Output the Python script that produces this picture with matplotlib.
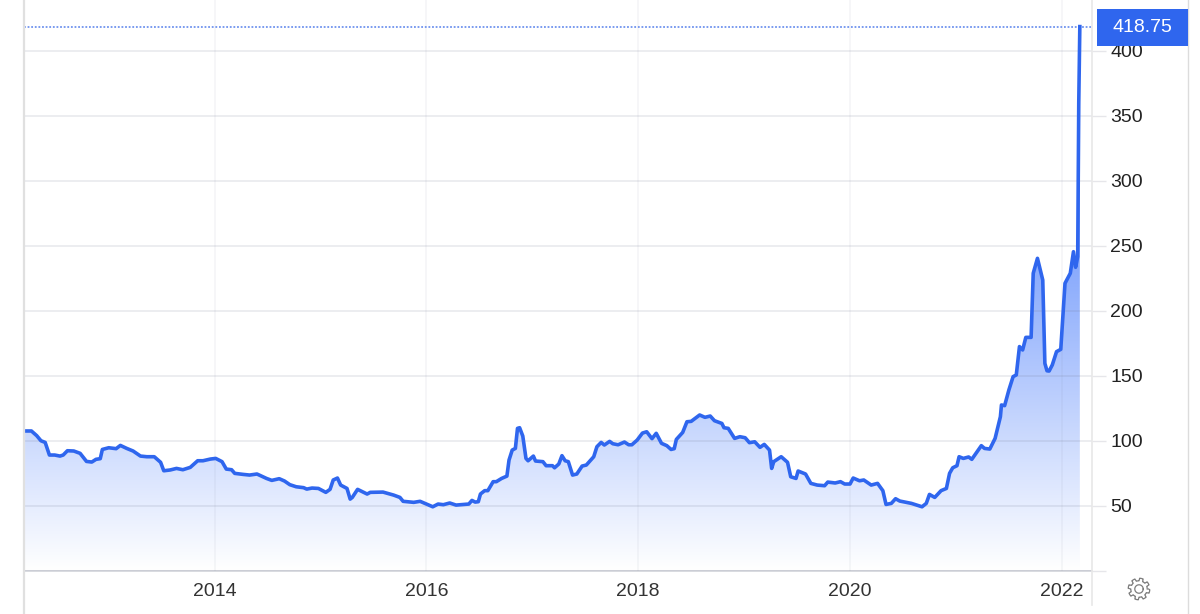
import numpy as np
import matplotlib
matplotlib.use("Agg")
import matplotlib.pyplot as plt
from matplotlib.colors import LinearSegmentedColormap
from matplotlib.lines import Line2D
from matplotlib.patches import Polygon, Rectangle

years = [2012.21,2012.27,2012.32,2012.36,2012.40,2012.44,2012.49,2012.54,2012.57,2012.61,2012.67,2012.73,2012.79,2012.84,2012.88,2012.92,2012.94,
         2013.00,2013.07,2013.11,2013.17,2013.23,2013.30,2013.36,2013.43,2013.49,2013.52,2013.58,2013.64,2013.70,2013.77,2013.84,2013.89,2013.96,
         2014.01,2014.07,2014.11,2014.16,2014.19,2014.27,2014.33,2014.40,2014.49,2014.54,2014.61,2014.66,2014.71,2014.77,2014.84,2014.87,2014.92,2014.98,
         2015.05,2015.09,2015.12,2015.16,2015.19,2015.25,2015.28,2015.30,2015.35,2015.44,2015.47,2015.59,2015.69,2015.75,2015.78,2015.88,2015.94,
         2016.00,2016.06,2016.11,2016.16,2016.22,2016.28,2016.35,2016.40,2016.43,2016.46,2016.49,2016.51,2016.55,2016.58,2016.63,2016.66,2016.71,2016.76,2016.78,2016.81,2016.84,2016.86,2016.88,2016.91,2016.94,2016.96,
         2017.01,2017.03,2017.10,2017.13,2017.19,2017.21,2017.25,2017.28,2017.31,2017.34,2017.38,2017.42,2017.47,2017.51,2017.58,2017.61,2017.65,2017.68,2017.73,2017.76,2017.81,2017.87,2017.91,2017.94,2017.99,
         2018.04,2018.08,2018.13,2018.17,2018.22,2018.27,2018.31,2018.34,2018.36,2018.42,2018.46,2018.50,2018.58,2018.63,2018.68,2018.72,2018.79,2018.81,2018.85,2018.91,2018.96,
         2019.01,2019.05,2019.10,2019.15,2019.19,2019.24,2019.26,2019.28,2019.35,2019.41,2019.44,2019.49,2019.51,2019.58,2019.63,2019.69,2019.76,2019.79,2019.86,2019.91,2019.95,
         2020.00,2020.03,2020.09,2020.13,2020.20,2020.26,2020.31,2020.34,2020.39,2020.43,2020.47,2020.58,2020.68,2020.72,2020.75,2020.80,2020.86,2020.91,2020.94,2020.97,
         2021.01,2021.03,2021.07,2021.12,2021.15,2021.20,2021.24,2021.27,2021.32,2021.37,2021.42,2021.43,2021.46,2021.50,2021.54,2021.57,2021.60,2021.63,2021.66,2021.71,2021.73,2021.77,2021.82,2021.84,2021.86,2021.88,2021.91,2021.95,2021.99,
         2022.03,2022.08,2022.11,2022.13,2022.15,2022.155,2022.16,2022.17]
prices = [107.7,107.7,104.1,100.2,98.9,89.2,89.2,88.4,89.2,92.5,92.3,90.5,84.3,83.8,85.9,86.4,93.5,
          94.8,94.1,96.6,94.3,92.3,88.4,87.9,87.9,83.6,77.1,77.7,78.9,77.9,79.7,84.8,84.8,86.1,
          86.6,84.1,78.4,77.9,75.1,74.3,73.8,74.6,71.2,69.7,71.0,69.2,66.4,64.8,64.1,63.0,63.8,63.5,
          60.5,62.8,70.0,71.5,66.1,63.5,55.3,56.6,62.8,59.2,60.5,60.7,58.4,56.6,53.6,52.8,53.6,
          51.5,49.4,51.5,51.0,52.3,50.7,51.2,51.5,54.3,53.0,53.3,59.2,61.8,61.8,68.7,68.7,71.2,73.0,85.3,93.0,94.3,109.7,110.2,103.8,86.6,84.8,
          88.4,84.6,84.1,81.0,81.0,79.4,82.3,88.7,84.8,84.1,73.8,74.6,80.7,81.5,87.9,95.6,98.9,96.9,99.7,97.9,97.1,99.2,97.1,97.1,100.7,
          106.1,107.1,101.8,105.9,98.2,96.4,93.5,94.1,101.2,106.6,114.8,115.1,120.0,118.2,119.2,115.6,113.5,110.2,109.7,102.0,103.3,
          102.5,98.7,99.4,95.1,97.4,93.0,78.9,84.1,87.9,83.6,72.5,71.2,76.9,74.6,67.4,66.1,65.6,68.4,67.7,68.7,66.9,
          66.9,71.5,69.4,70.0,66.1,67.4,61.8,51.2,52.0,55.6,53.8,52.0,49.4,52.0,58.9,56.6,61.8,63.5,75.1,79.4,
          81.0,87.9,86.6,87.7,85.9,91.8,96.4,94.3,93.8,102.0,118.7,127.7,127.2,139.2,149.5,150.8,172.6,170.0,179.7,179.7,229.0,240.5,223.8,159.7,154.0,153.8,158.5,168.7,170.5,
          221.3,229.0,245.6,233.6,241.8,300.0,360.0,418.75]

year_ticks = [2014,2016,2018,2020,2022]
price_ticks = [0,50,100,150,200,250,300,350,400]
last_label = "418.75"

W,H = 1200,614
BLUE = "#2f66ee"
GRID = "#e6e6ea"

def fx_(x): return x/W
def fy_(y): return 1-y/H

plt.rcParams["font.family"] = ["Liberation Sans","DejaVu Sans"]
plt.rcParams["font.size"] = 14

fig = plt.figure(figsize=[W/100,H/100],dpi=100,facecolor="white")
ax = fig.add_axes([fx_(24),fy_(571),(1092-24)/W,571/H])

ax.set_xlim(2012.2,2022.285)
ax.set_ylim(0,439.2)

# gradient fill under the line
cmap = LinearSegmentedColormap.from_list("fade",["#ffffff","#2260fa"])
grad = np.linspace(1,0,256)[:,np.newaxis]
im = ax.imshow(grad,cmap=cmap,vmin=0,vmax=1,aspect="auto",zorder=1,
               extent=[2012.2,2022.285,0,439.2])
poly = Polygon(list(zip(years,prices))+[(years[-1],0),(years[0],0)],closed=True,
               transform=ax.transData,facecolor="none",edgecolor="none")
ax.add_patch(poly)
im.set_clip_path(poly)
ax.set_xlim(2012.2,2022.285)
ax.set_ylim(0,439.2)

# see-through grid so it reads darker over the fill, as in the original
ax.grid(True,axis="y",color="#70768c",alpha=0.14,lw=1.3,zorder=2)
ax.grid(True,axis="x",color="#70768c",alpha=0.08,lw=1.1,zorder=2)
ax.set_axisbelow(False)

ax.plot(years,prices,color=BLUE,lw=2.6,zorder=4,solid_joinstyle="round")
ax.axhline(prices[-1],color="#6f93ee",lw=1.3,ls=(0,(1,1)),zorder=3)

ax.set_xticks(year_ticks)
ax.set_xticklabels([str(y) for y in year_ticks],color="#333333")
ax.set_yticks(price_ticks)
ax.set_yticklabels([""]+[str(p) for p in price_ticks[1:]],color="#222222")
ax.yaxis.tick_right()
ax.tick_params(axis="y",length=10,width=1,color=GRID,pad=3)
ax.tick_params(axis="x",length=0,pad=9)

for s in ["top","left","right"]:
    ax.spines[s].set_visible(False)
ax.spines["bottom"].set_color("#d2d4da")
ax.spines["bottom"].set_linewidth(1.2)

# frame lines outside the plot
fig.add_artist(Line2D([fx_(24),fx_(24)],[0,1],color="#e0e0e0",lw=1.6))
fig.add_artist(Line2D([fx_(1092),fx_(1092)],[fy_(605),1],color="#e8e8e8",lw=1.2))
fig.add_artist(Line2D([fx_(1188),fx_(1188)],[0,1],color="#dcdcdc",lw=1.0))

# last value tag
fig.add_artist(Rectangle((fx_(1097),fy_(46)),91/W,37/H,transform=fig.transFigure,
                         facecolor=BLUE,edgecolor="none",zorder=5))
fig.text(fx_(1142.5),fy_(28),last_label,color="white",ha="center",va="center",zorder=6)

# settings gear
a = np.linspace(0,2*np.pi,97)
r = 9.5+1.3*np.sign(np.sin(8*a))
fig.add_artist(Line2D(fx_(1139+r*np.cos(a)),fy_(589+r*np.sin(a)),color="#7d7d7d",lw=0.9))
fig.add_artist(Line2D(fx_(1139+4.2*np.cos(a)),fy_(589+4.2*np.sin(a)),color="#7d7d7d",lw=0.9))

fig.savefig("out.png",dpi=100)
